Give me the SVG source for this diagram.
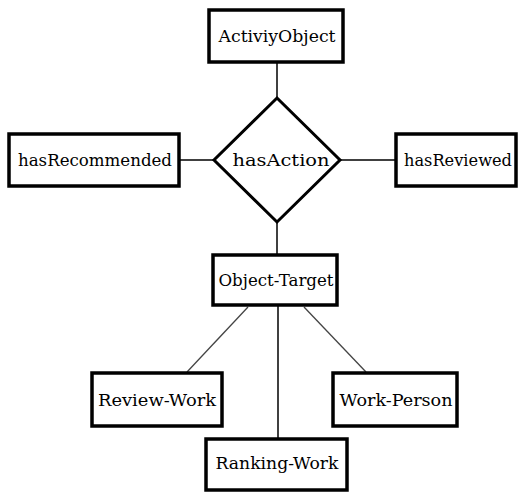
<svg xmlns="http://www.w3.org/2000/svg" width="521" height="492" viewBox="0 0 521 492">
  <style>
    .box { fill: #fff; stroke: #000; stroke-width: 3.5; }
    .rel { fill: #fff; stroke: #000; stroke-width: 3; stroke-linejoin: miter; }
    .lbl { font-family: "DejaVu Serif", serif; font-size: 16px; fill: #000; text-anchor: middle; }
    .link { stroke: #000; stroke-width: 1.5; fill: none; }
    .diag { stroke: #444; stroke-width: 1.3; fill: none; }
  </style>
  <rect width="521" height="492" fill="#fff"/>

  <g id="connectors">
    <line class="link" x1="277" y1="63" x2="277" y2="98"/>
    <line class="link" x1="180" y1="160" x2="214" y2="160"/>
    <line class="link" x1="340" y1="160" x2="396" y2="160"/>
    <line class="link" x1="277" y1="222" x2="277" y2="254"/>
    <line class="link" x1="278" y1="306" x2="278" y2="438"/>
    <line class="diag" x1="248" y1="307" x2="187" y2="372"/>
    <line class="diag" x1="304" y1="307" x2="366" y2="372"/>
  </g>

  <g id="activiy-object">
    <rect class="box" x="209" y="10" width="134" height="52"/>
    <text class="lbl" x="277" y="42" textLength="117" lengthAdjust="spacingAndGlyphs">ActiviyObject</text>
  </g>

  <g id="has-action">
    <polygon class="rel" points="277,98 340,160 277,222 214,160"/>
    <text class="lbl" x="281" y="166" textLength="97" lengthAdjust="spacingAndGlyphs">hasAction</text>
  </g>

  <g id="has-recommended">
    <rect class="box" x="9" y="134" width="170" height="52"/>
    <text class="lbl" x="95" y="166" textLength="154" lengthAdjust="spacingAndGlyphs">hasRecommended</text>
  </g>

  <g id="has-reviewed">
    <rect class="box" x="396" y="134" width="120" height="52"/>
    <text class="lbl" x="458" y="166" textLength="108" lengthAdjust="spacingAndGlyphs">hasReviewed</text>
  </g>

  <g id="object-target">
    <rect class="box" x="213" y="255" width="124" height="50"/>
    <text class="lbl" x="276" y="286" textLength="115" lengthAdjust="spacingAndGlyphs">Object-Target</text>
  </g>

  <g id="review-work">
    <rect class="box" x="92" y="373" width="130" height="53"/>
    <text class="lbl" x="157" y="406" textLength="118" lengthAdjust="spacingAndGlyphs">Review-Work</text>
  </g>

  <g id="work-person">
    <rect class="box" x="333" y="373" width="124" height="53"/>
    <text class="lbl" x="396" y="406" textLength="113" lengthAdjust="spacingAndGlyphs">Work-Person</text>
  </g>

  <g id="ranking-work">
    <rect class="box" x="206" y="439" width="141" height="51"/>
    <text class="lbl" x="277" y="469" textLength="123" lengthAdjust="spacingAndGlyphs">Ranking-Work</text>
  </g>
</svg>
